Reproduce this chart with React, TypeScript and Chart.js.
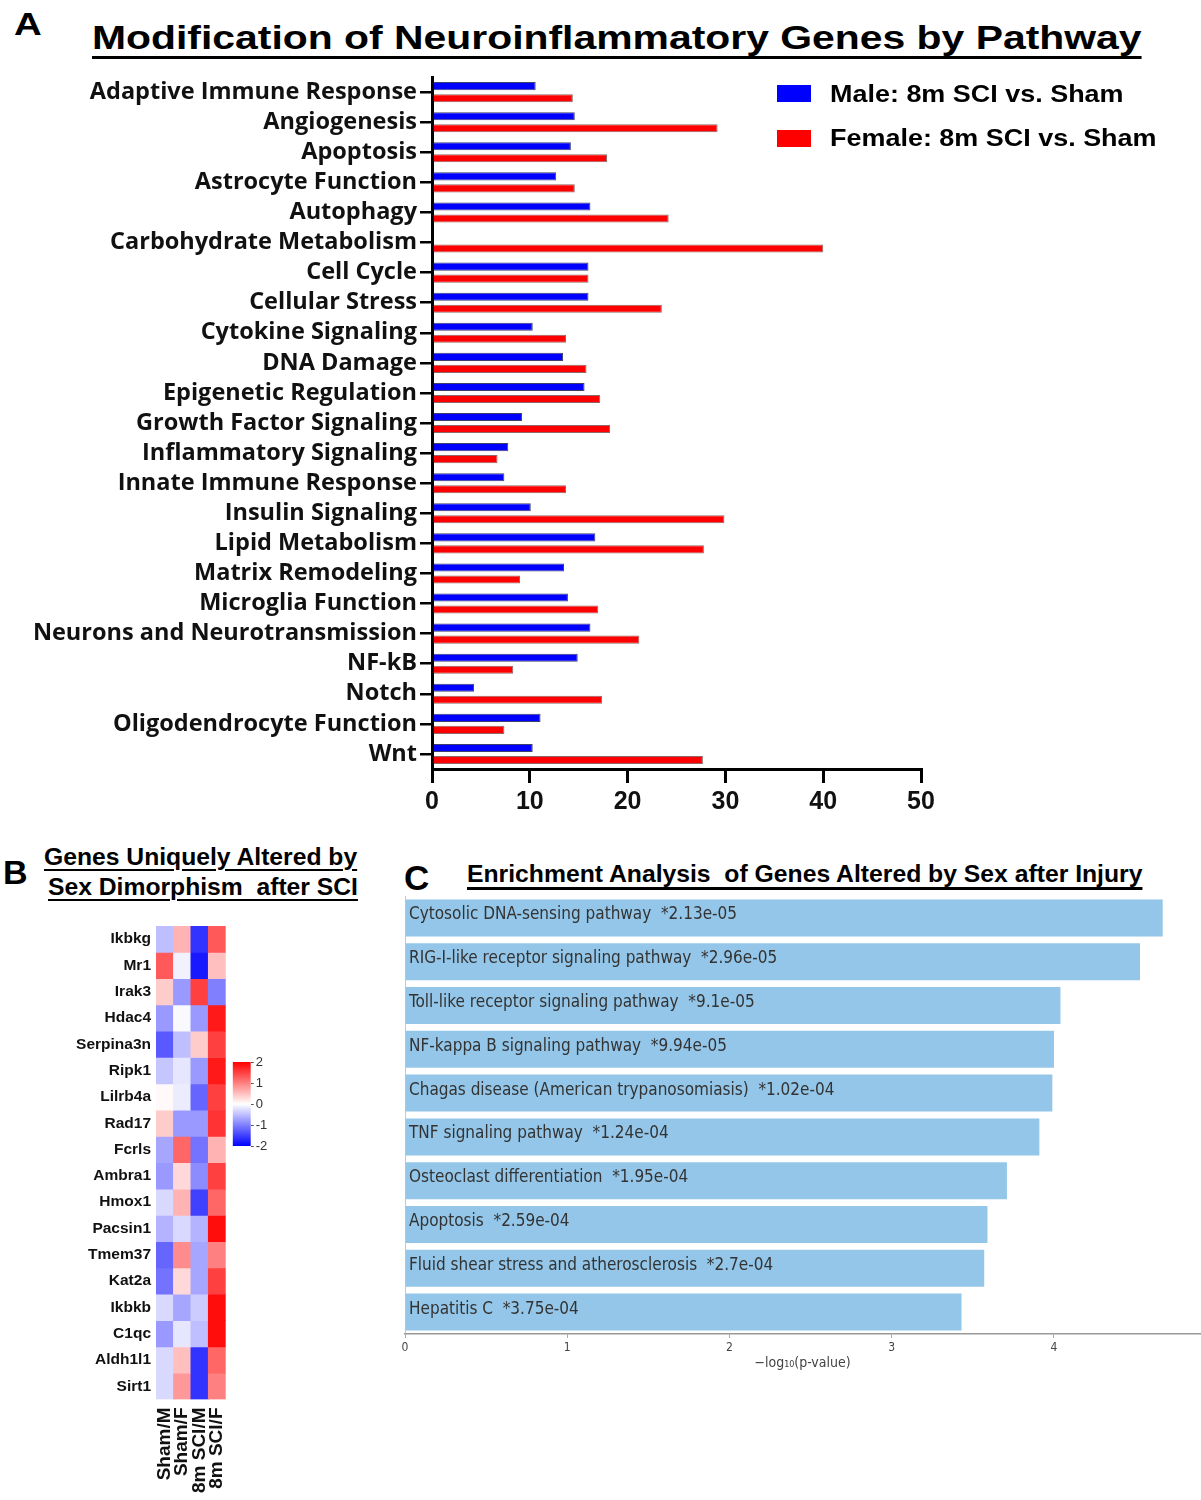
import React, { useEffect, useRef } from 'react';
import { Chart, registerables } from 'chart.js';

Chart.register(...registerables);

// ---------- Panel A data ----------
const pathways = [
  'Adaptive Immune Response', 'Angiogenesis', 'Apoptosis', 'Astrocyte Function', 'Autophagy',
  'Carbohydrate Metabolism', 'Cell Cycle', 'Cellular Stress', 'Cytokine Signaling', 'DNA Damage',
  'Epigenetic Regulation', 'Growth Factor Signaling', 'Inflammatory Signaling', 'Innate Immune Response',
  'Insulin Signaling', 'Lipid Metabolism', 'Matrix Remodeling', 'Microglia Function',
  'Neurons and Neurotransmission', 'NF-kB', 'Notch', 'Oligodendrocyte Function', 'Wnt',
];
const maleSCI = [10.6, 14.6, 14.2, 12.7, 16.2, 0, 16.0, 16.0, 10.3, 13.4, 15.6, 9.2, 7.8, 7.4, 10.1, 16.7, 13.5, 13.9, 16.2, 14.9, 4.3, 11.1, 10.3];
const femaleSCI = [14.4, 29.2, 17.9, 14.6, 24.2, 40.0, 16.0, 23.5, 13.7, 15.8, 17.2, 18.2, 6.7, 13.7, 29.9, 27.8, 9.0, 17.0, 21.2, 8.3, 17.4, 7.4, 27.7];
const seriesA = ['Male: 8m SCI vs. Sham', 'Female: 8m SCI vs. Sham'];
const xTicksA = [0, 10, 20, 30, 40, 50];

// ---------- Panel B data (z-scores) ----------
const genes = ['Ikbkg', 'Mr1', 'Irak3', 'Hdac4', 'Serpina3n', 'Ripk1', 'Lilrb4a', 'Rad17', 'Fcrls',
  'Ambra1', 'Hmox1', 'Pacsin1', 'Tmem37', 'Kat2a', 'Ikbkb', 'C1qc', 'Aldh1l1', 'Sirt1'];
const heatColumns = ['Sham/M', 'Sham/F', '8m SCI/M', '8m SCI/F'];
const shamM = [-0.5, 1.3, 0.4, -0.8, -1.3, -0.45, 0.05, 0.4, -0.7, -0.8, -0.3, -0.6, -1.2, -1.1, -0.3, -0.8, -0.3, -0.3];
const shamF = [0.6, -0.1, -0.8, -0.05, -0.5, -0.2, -0.15, -0.8, 1.2, 0.3, 0.6, -0.3, 0.9, 0.3, -0.7, -0.2, 0.5, 0.8];
const sciM = [-1.6, -1.8, 1.5, -0.8, 0.4, -0.8, -1.2, -0.8, -1.1, -0.9, -1.5, -0.6, -0.7, -0.7, -0.4, -0.5, -1.6, -1.6];
const sciF = [1.3, 0.5, -1.0, 1.8, 1.5, 1.8, 1.5, 1.6, 0.6, 1.5, 1.2, 1.9, 1.0, 1.5, 1.9, 1.9, 1.2, 1.0];
const colorbarRange = [-2, 2];

// ---------- Panel C data ----------
const enrichTerms = [
  'Cytosolic DNA-sensing pathway', 'RIG-I-like receptor signaling pathway', 'Toll-like receptor signaling pathway',
  'NF-kappa B signaling pathway', 'Chagas disease (American trypanosomiasis)', 'TNF signaling pathway',
  'Osteoclast differentiation', 'Apoptosis', 'Fluid shear stress and atherosclerosis', 'Hepatitis C',
];
const enrichP = ['2.13e-05', '2.96e-05', '9.1e-05', '9.94e-05', '1.02e-04', '1.24e-04', '1.95e-04', '2.59e-04', '2.7e-04', '3.75e-04'];
const enrichScore = [4.67, 4.53, 4.04, 4.00, 3.99, 3.91, 3.71, 3.59, 3.57, 3.43];
const xTicksC = [0, 1, 2, 3, 4];

const ARIAL = "'Liberation Sans', Arial, sans-serif";
const OPEN = "'Open Sans', sans-serif";
const DEJAC = "'DejaVu Sans Condensed', 'DejaVu Sans', sans-serif";

function zColor(z: number): string {
  const t = Math.max(-1, Math.min(1, z / 2));
  if (t < 0) {
    const v = Math.round(255 * (1 + t));
    return `rgb(${v},${v},255)`;
  }
  const v = Math.round(255 * (1 - t));
  return `rgb(255,${v},${v})`;
}

type TxtProps = {
  x: number; base: number; size: number; text: string; sx?: number; bold?: boolean;
  ul?: number; ulOff?: number; family?: string;
};
function Txt({ x, base, size, text, sx = 1, bold = true, ul, ulOff = 5, family = ARIAL }: TxtProps) {
  const style: React.CSSProperties = {
    position: 'absolute', left: x, top: base - 0.8465 * size, fontSize: size, lineHeight: `${size}px`,
    fontFamily: family, fontWeight: bold ? 700 : 400, whiteSpace: 'pre', color: '#000',
    transform: `scaleX(${sx})`, transformOrigin: 'left top',
  };
  if (ul) {
    style.textDecoration = 'underline';
    style.textDecorationThickness = `${ul}px`;
    style.textUnderlineOffset = `${ulOff}px`;
  }
  return <div style={style}>{text}</div>;
}

// Draws the term labels inside the enrichment bars
const barLabelPlugin = {
  id: 'barLabels',
  afterDatasetsDraw(chart: any) {
    const { ctx, chartArea } = chart;
    const meta = chart.getDatasetMeta(0);
    ctx.save();
    ctx.font = `17px ${DEJAC}`;
    ctx.fillStyle = '#333';
    ctx.textBaseline = 'middle';
    ctx.textAlign = 'left';
    meta.data.forEach((bar: any, i: number) => {
      ctx.fillText(chart.data.labels[i], chartArea.left + 4, bar.y - 3);
    });
    ctx.restore();
  },
};

export default function App() {
  const refA = useRef<HTMLCanvasElement>(null);
  const refB = useRef<HTMLCanvasElement>(null);
  const refCb = useRef<HTMLCanvasElement>(null);
  const refC = useRef<HTMLCanvasElement>(null);

  useEffect(() => {
    const charts: Chart[] = [];

    // Panel A
    charts.push(new Chart(refA.current!, {
      type: 'bar',
      data: {
        labels: pathways,
        datasets: [
          { label: seriesA[0], data: maleSCI, backgroundColor: '#0000ff', borderColor: 'rgba(0,0,60,0.75)', borderWidth: 1, categoryPercentage: 0.8, barPercentage: 0.67 },
          { label: seriesA[1], data: femaleSCI, backgroundColor: '#ff0000', borderColor: 'rgba(70,0,0,0.6)', borderWidth: 1, categoryPercentage: 0.8, barPercentage: 0.67 },
        ],
      },
      options: {
        indexAxis: 'y', responsive: false, animation: false,
        layout: { padding: { top: 17, right: 39, left: 0, bottom: 0 } },
        plugins: { legend: { display: false }, tooltip: { enabled: false } },
        scales: {
          y: {
            type: 'category',
            grid: { display: true, drawOnChartArea: false, offset: false, tickLength: 12, color: '#000', lineWidth: 2.5 },
            border: { display: true, color: '#000', width: 3 },
            ticks: { color: '#111', font: { family: OPEN, weight: 'bold', size: 23.5 }, padding: 3, autoSkip: false },
            afterFit: (s: any) => { s.width = 432; },
          },
          x: {
            type: 'linear', min: 0, max: 50,
            afterBuildTicks: (s: any) => { s.ticks = xTicksA.map((v) => ({ value: v })); },
            ticks: { color: '#111', font: { family: ARIAL, weight: 'bold', size: 25 }, padding: 4 },
            grid: { drawOnChartArea: false, tickLength: 14, color: '#000', lineWidth: 3 },
            border: { color: '#000', width: 3 },
            afterFit: (s: any) => { s.height = 51; },
          },
        },
      },
    } as any));

    // Panel B heatmap (floating bars, one dataset per gene row)
    const cols = [shamM, shamF, sciM, sciF];
    charts.push(new Chart(refB.current!, {
      type: 'bar',
      data: {
        labels: heatColumns,
        datasets: genes.map((g, i) => ({
          label: g,
          data: heatColumns.map(() => [i, i + 1]),
          backgroundColor: cols.map((c) => zColor(c[i])),
          borderWidth: 0, grouped: false, barPercentage: 1, categoryPercentage: 1,
        })),
      },
      options: {
        responsive: false, animation: false,
        layout: { padding: { top: 16, right: 14.3, left: 0, bottom: 0 } },
        plugins: { legend: { display: false }, tooltip: { enabled: false } },
        scales: {
          x: {
            grid: { display: false, drawTicks: false }, border: { display: false },
            ticks: { maxRotation: 90, minRotation: 90, autoSkip: false, color: '#111', font: { family: ARIAL, weight: 'bold', size: 19 }, padding: 8 },
            afterFit: (s: any) => { s.height = 100.5; s.paddingLeft = 0; s.paddingRight = 0; },
          },
          y: {
            type: 'linear', min: 0, max: 18, reverse: true,
            grid: { display: false, drawTicks: false }, border: { display: false },
            afterBuildTicks: (s: any) => { s.ticks = genes.map((_, i) => ({ value: i + 0.5 })); },
            ticks: { autoSkip: false, callback: (_v: any, idx: number) => genes[idx], color: '#111', font: { family: ARIAL, weight: 'bold', size: 15.5 }, padding: 5 },
            afterFit: (s: any) => { s.width = 156; s.paddingTop = 0; s.paddingBottom = 0; },
          },
        },
      },
    } as any));

    // Colour bar
    charts.push(new Chart(refCb.current!, {
      type: 'bar',
      data: {
        labels: [''],
        datasets: [{
          data: [colorbarRange],
          backgroundColor: (ctx: any) => {
            const ch = ctx.chart; const a = ch.chartArea;
            if (!a) return '#ffffff';
            const g = ch.ctx.createLinearGradient(0, a.bottom, 0, a.top);
            g.addColorStop(0, '#0000ff'); g.addColorStop(0.5, '#ffffff'); g.addColorStop(1, '#ff0000');
            return g;
          },
          borderWidth: 0, barPercentage: 1, categoryPercentage: 1,
        }],
      },
      options: {
        responsive: false, animation: false,
        layout: { padding: { top: 12, bottom: 14, left: 6.7, right: 0 } },
        plugins: { legend: { display: false }, tooltip: { enabled: false } },
        scales: {
          x: { display: false },
          y: {
            position: 'right', min: colorbarRange[0], max: colorbarRange[1],
            ticks: { stepSize: 1, color: '#333', font: { family: ARIAL, size: 13 }, padding: 2 },
            grid: { drawOnChartArea: false, tickLength: 3, color: '#555' },
            border: { display: false },
            afterFit: (s: any) => { s.width = 25.3; },
          },
        },
      },
    } as any));

    // Panel C
    charts.push(new Chart(refC.current!, {
      type: 'bar',
      data: {
        labels: enrichTerms.map((t, i) => `${t}  *${enrichP[i]}`),
        datasets: [{ data: enrichScore, backgroundColor: '#93c6e8', borderWidth: 0, barPercentage: 0.845, categoryPercentage: 1 }],
      },
      plugins: [barLabelPlugin],
      options: {
        indexAxis: 'y', responsive: false, animation: false,
        layout: { padding: { top: 16, left: 10, right: 1, bottom: 0 } },
        plugins: { legend: { display: false }, tooltip: { enabled: false } },
        scales: {
          y: {
            grid: { display: false, drawTicks: false },
            border: { display: true, color: '#c8c8c8', width: 1 },
            ticks: { display: false },
            afterFit: (s: any) => { s.width = 0; },
          },
          x: {
            type: 'linear', min: 0, max: 4.9,
            afterBuildTicks: (s: any) => { s.ticks = xTicksC.map((v) => ({ value: v })); },
            ticks: { color: '#444', font: { family: DEJAC, size: 12 }, padding: 3 },
            grid: { drawOnChartArea: false, tickLength: 4, color: '#aaa' },
            border: { color: '#999', width: 1.5 },
            title: { display: true, text: '\u2212log\u2081\u2080(p-value)', color: '#444', font: { family: DEJAC, size: 14 }, padding: { top: 0, bottom: 0 } },
            afterFit: (s: any) => { s.height = 38; },
          },
        },
      },
    } as any));

    return () => { charts.forEach((c) => c.destroy()); };
  }, []);

  return (
    <div style={{ position: 'absolute', left: 0, top: 0, width: 1201, height: 1500, background: '#fff', overflow: 'hidden' }}>
      {/* Panel A */}
      <Txt x={14} base={35} size={32} sx={1.2} text="A" />
      <Txt x={92} base={48.5} size={34} sx={1.2025} ul={3} ulOff={7} text="Modification of Neuroinflammatory Genes by Pathway" />
      <canvas ref={refA} width={960} height={760} style={{ position: 'absolute', left: 0, top: 60, width: 960, height: 760 }} />
      <div style={{ position: 'absolute', left: 777, top: 85, width: 34, height: 17, background: '#0000ff' }} />
      <div style={{ position: 'absolute', left: 777, top: 130, width: 34, height: 17, background: '#ff0000' }} />
      <Txt x={830} base={102.3} size={24.5} sx={1.1} text={seriesA[0]} />
      <Txt x={830} base={147} size={24.5} sx={1.1} text={seriesA[1]} />

      {/* Panel B */}
      <Txt x={3} base={884} size={34} text="B" />
      <Txt x={44} base={865} size={23} sx={1.073} ul={2} ulOff={4} text="Genes Uniquely Altered by" />
      <Txt x={48} base={895} size={23} sx={1.073} ul={2} ulOff={4} text="Sex Dimorphism  after SCI" />
      <canvas ref={refB} width={240} height={590} style={{ position: 'absolute', left: 0, top: 910, width: 240, height: 590 }} />
      <canvas ref={refCb} width={50} height={110} style={{ position: 'absolute', left: 226, top: 1050, width: 50, height: 110 }} />

      {/* Panel C */}
      <Txt x={404} base={890} size={35} text="C" />
      <Txt x={466.5} base={882.7} size={24} sx={1.03} ul={2.5} ulOff={5} text="Enrichment Analysis  of Genes Altered by Sex after Injury" />
      <canvas ref={refC} width={806} height={492} style={{ position: 'absolute', left: 395, top: 880, width: 806, height: 492 }} />
    </div>
  );
}
